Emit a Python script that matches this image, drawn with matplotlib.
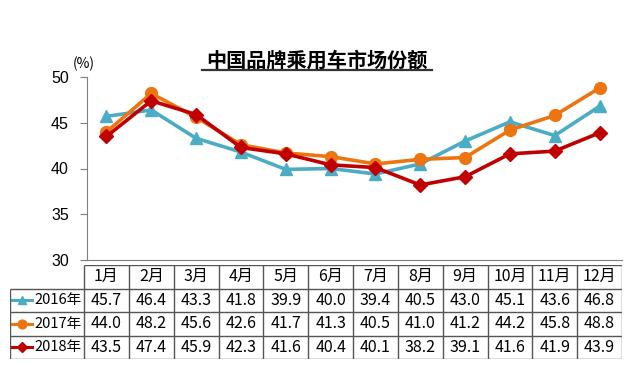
import matplotlib
matplotlib.use('Agg')
import matplotlib.pyplot as plt
from matplotlib.lines import Line2D

plt.rcParams['font.family'] = ['Noto Sans CJK SC', 'DejaVu Sans']

months = ['1月', '2月', '3月', '4月', '5月', '6月', '7月', '8月', '9月', '10月', '11月', '12月']
years = ['2016年', '2017年', '2018年']
share_2016 = [45.7, 46.4, 43.3, 41.8, 39.9, 40.0, 39.4, 40.5, 43.0, 45.1, 43.6, 46.8]
share_2017 = [44.0, 48.2, 45.6, 42.6, 41.7, 41.3, 40.5, 41.0, 41.2, 44.2, 45.8, 48.8]
share_2018 = [43.5, 47.4, 45.9, 42.3, 41.6, 40.4, 40.1, 38.2, 39.1, 41.6, 41.9, 43.9]
series = [share_2016, share_2017, share_2018]
colors = ['#4BACC6', '#EC7512', '#C00000']
markers = ['^', 'o', 'D']
msizes = [8, 8.5, 7]

W, H = 640, 372
fig = plt.figure(figsize=(W / 100, H / 100), dpi=100)

def px(l, t, r, b):
    return [l / W, 1 - b / H, (r - l) / W, (b - t) / H]

# main chart
ax = fig.add_axes(px(84, 77, 622, 260))
x = list(range(len(months)))
for s, c, m, ms in zip(series, colors, markers, msizes):
    ax.plot(x, s, color=c, lw=2.6, marker=m, ms=ms, mec=c, mfc=c, zorder=3)
ax.set_xlim(-0.5, 11.5)
ax.set_ylim(30, 50)
ax.set_yticks([30, 35, 40, 45, 50])
ax.set_xticks([])
for sp in ['top', 'right']:
    ax.spines[sp].set_visible(False)
ax.spines['left'].set_color('#7f7f7f')
ax.spines['bottom'].set_color('#7f7f7f')
ax.spines['left'].set_position(('outward', -2))
ax.tick_params(axis='y', length=5, color='#7f7f7f', labelsize=11.5, pad=8)
for lb in ax.get_yticklabels():
    lb.set_family(['Liberation Sans'])

fig.text(84 / W, 1 - 64 / H, '(%)', fontsize=10, ha='center', va='center')
fig.text(317 / W, 1 - 60 / H, '中国品牌乘用车市场份额', fontsize=14.5,
         fontweight='bold', ha='center', va='center')
fig.add_artist(Line2D([202 / W, 432 / W], [1 - 70 / H, 1 - 70 / H], color='#333333', lw=1.6))

# data table
unit = 538 / 12
lab_w = 74 / unit
x0 = -0.5 - lab_w
tax = fig.add_axes(px(10, 265, 622, 359))
tax.set_xlim(x0, 11.5)
tax.set_ylim(4, 0)
tax.axis('off')
lc = '#555555'
tax.hlines(0, -0.5, 11.5, color=lc, lw=1)
for r in [1, 2, 3, 4]:
    tax.hlines(r, x0, 11.5, color=lc, lw=1)
tax.vlines(x0, 1, 4, color=lc, lw=1)
for i in range(13):
    tax.vlines(i - 0.5, 0, 4, color=lc, lw=1)

for i, mname in enumerate(months):
    tax.text(i, 0.5, mname, ha='center', va='center', fontsize=11.5)
for r, (yr, s, c, m, ms) in enumerate(zip(years, series, colors, markers, msizes)):
    yy = r + 1.5
    tax.plot([x0 + 2 / unit, x0 + 22 / unit], [yy, yy], color=c, lw=2.2)
    tax.plot([x0 + 12 / unit], [yy], marker=m, color=c, ms=ms * 0.75)
    tax.text(-0.5 - 2 / unit, yy, yr, ha='right', va='center', fontsize=10.5)
    for i, v in enumerate(s):
        tax.text(i, yy, f'{v:.1f}', ha='center', va='center', fontsize=11.5)

fig.savefig('out.png', dpi=100)
